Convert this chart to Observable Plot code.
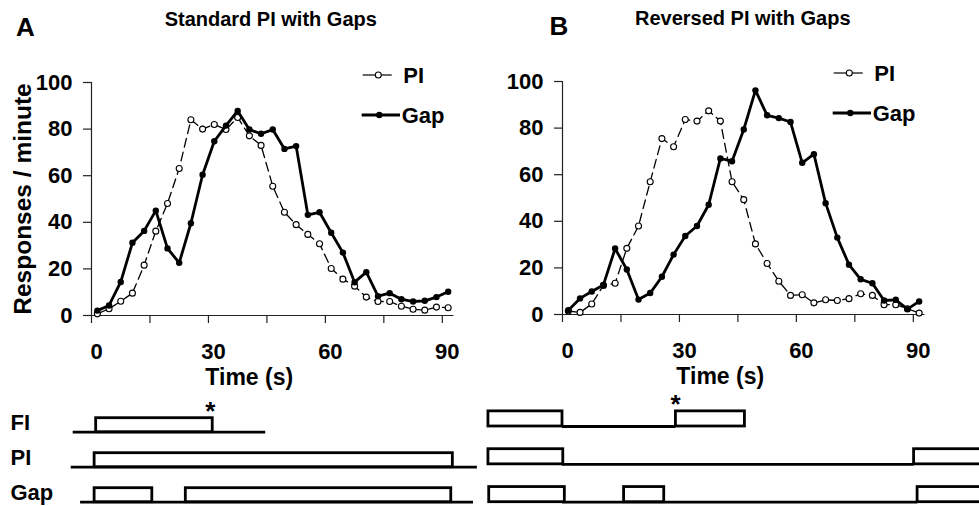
<!DOCTYPE html>
<html>
<head>
<meta charset="utf-8">
<script src="https://cdn.jsdelivr.net/npm/d3@7"></script>
<script src="https://cdn.jsdelivr.net/npm/@observablehq/plot@0.6"></script>
<style>
html, body { margin: 0; padding: 0; background: #fff; }
#wrap { position: relative; width: 979px; height: 506px; overflow: hidden; background: #fff;
  font-family: "Liberation Sans", Arial, Helvetica, sans-serif; }
#wrap > div { position: absolute; }
#wrap svg { max-width: none; }
</style>
</head>
<body>
<div id="wrap"></div>
<script>
// ---------- data ----------
const timeBins = [1.5, 4.5, 7.5, 10.5, 13.5, 16.5, 19.5, 22.5, 25.5, 28.5, 31.5, 34.5, 37.5, 40.5, 43.5,
  46.5, 49.5, 52.5, 55.5, 58.5, 61.5, 64.5, 67.5, 70.5, 73.5, 76.5, 79.5, 82.5, 85.5, 88.5, 91.5];

const standardPI  = [0.7, 2.9, 6.1, 9.6, 21.6, 36.2, 48.1, 63.1, 84, 80, 82, 79.8, 85, 77.1, 73,
  55.5, 44.3, 39, 34.8, 30.8, 20.2, 15.6, 12.6, 7.9, 6, 6, 4, 2.7, 2.3, 3.6, 3.3];
const standardGap = [2.1, 4.3, 14.4, 31.2, 36.3, 45, 28.8, 22.6, 39.6, 60.4, 74.8, 81.5, 87.8, 79.8, 78,
  79.8, 71.5, 72.7, 43.2, 44.3, 35.5, 27, 14.3, 18.6, 8.3, 9.6, 7, 6, 6.3, 7.9, 10.2];

const reversedPI  = [1.5, 0.9, 4.5, 12.5, 13.4, 28.4, 38, 57, 75.5, 72, 83.7, 83, 87.4, 83, 57,
  49.3, 30.3, 21.9, 14.3, 8.2, 8.5, 5, 6.3, 6, 6.8, 8.9, 8.2, 4.2, 4.2, 2.5, 0.6];
const reversedGap = [1.8, 6.9, 9.9, 12.7, 28.3, 19.3, 6.4, 9.2, 16.2, 25.7, 33.7, 38, 47.1, 67, 65.8,
  79.4, 96.2, 85.5, 84.3, 82.6, 65.1, 68.8, 47.8, 33, 21.4, 15.1, 13.4, 6, 6.3, 2.3, 5.6];

const xTicks  = [0, 15, 30, 45, 60, 75, 90];
const xLabels = [0, 30, 60, 90];
const yTicks  = [0, 20, 40, 60, 80, 100];
const seriesNames = ["PI", "Gap"];

// schematic (time in s)
const schemRows = ["FI", "PI", "Gap"];
const standardBaselines = [
  {row: 0, x1: -4.7, x2: 44.7}, {row: 1, x1: -5.2, x2: 99}, {row: 2, x1: -2.8, x2: 98}];
const standardBoxes = [
  {row: 0, x1: 1.2, x2: 31.1}, {row: 1, x1: 0.8, x2: 92.7},
  {row: 2, x1: 0.8, x2: 15.6}, {row: 2, x1: 24.2, x2: 92.3}];
const standardStars = [{row: 0, x: 30.5}];
const reversedBaselines = [
  {row: 0, x1: 0, x2: 29.1}, {row: 1, x1: 0, x2: 90.2}, {row: 2, x1: 0, x2: 91.1}];
const reversedBoxes = [
  {row: 0, x1: -19, x2: 0}, {row: 0, x1: 29.1, x2: 46.8},
  {row: 1, x1: -19, x2: 0.2}, {row: 1, x1: 90.2, x2: 112},
  {row: 2, x1: -18.8, x2: 0.6}, {row: 2, x1: 15.8, x2: 26.1}, {row: 2, x1: 91.1, x2: 112}];
const reversedStars = [{row: 0, x: 29}];

// ---------- helpers ----------
const FONT = '"Liberation Sans", Arial, Helvetica, sans-serif';
const baseStyle = {fontFamily: FONT, fontWeight: "bold", fontSize: "22px", background: "transparent", color: "black"};
const wrap = document.getElementById("wrap");

function place(node, left, top) {
  const d = document.createElement("div");
  d.style.left = left + "px";
  d.style.top = top + "px";
  d.appendChild(node);
  wrap.appendChild(d);
}

function mainPlot({pi, gap, letter, letterDx, title, titleDx, yTitle}) {
  const piData = timeBins.map((t, i) => ({t, v: pi[i]}));
  const gapData = timeBins.map((t, i) => ({t, v: gap[i]}));
  const W = 490;
  return Plot.plot({
    width: W, height: 390,
    marginLeft: 91, marginRight: W - 453.5, marginTop: 82, marginBottom: 75,
    x: {domain: [0, 93]},
    y: {domain: [0, 100]},
    style: baseStyle,
    marks: [
      Plot.ruleY([0], {stroke: "#222", strokeWidth: 1.2}),
      Plot.ruleX([0], {stroke: "#222", strokeWidth: 1.2}),
      Plot.axisX({ticks: xTicks, tickSize: 8, tickFormat: () => "", label: null, stroke: "#222", strokeWidth: 1.2}),
      Plot.axisY({ticks: yTicks, tickSize: 8, tickPadding: 11, label: null, stroke: "#222", strokeWidth: 1.2,
        fontSize: 22, fontWeight: "bold"}),
      Plot.text(xLabels, {x: d => d, text: d => String(d), frameAnchor: "bottom", lineAnchor: "middle",
        dy: 36, dx: 5, fontSize: 22, fontWeight: "bold"}),
      Plot.text(["Time (s)"], {frameAnchor: "bottom", lineAnchor: "middle", dy: 62, dx: -23.5,
        fontSize: 23, fontWeight: "bold"}),
      yTitle ? Plot.text([yTitle], {frameAnchor: "left", textAnchor: "middle", lineAnchor: "middle",
        rotate: -90, dx: -68, dy: 0, fontSize: 24.5, fontWeight: "bold"}) : null,
      Plot.text([letter], {frameAnchor: "top-left", textAnchor: "middle", lineAnchor: "middle",
        dx: letterDx, dy: -54.5, fontSize: 26, fontWeight: "bold"}),
      Plot.text([title], {frameAnchor: "top", textAnchor: "middle", lineAnchor: "middle",
        dx: titleDx, dy: -62.5, fontSize: 20, fontWeight: "bold"}),
      Plot.line(piData, {x: "t", y: "v", stroke: "black", strokeWidth: 1.3, strokeDasharray: "9,5"}),
      Plot.dot(piData, {x: "t", y: "v", r: 3, fill: "white", stroke: "black", strokeWidth: 1.1}),
      Plot.line(gapData, {x: "t", y: "v", stroke: "black", strokeWidth: 2.8}),
      Plot.dot(gapData, {x: "t", y: "v", r: 3.2, fill: "black"})
    ]
  });
}

function schemPlot({baselines, boxes, stars, yRange, W, labels}) {
  return Plot.plot({
    width: W, height: 116,
    marginLeft: 91, marginRight: W - 453.5, marginTop: 0, marginBottom: 0,
    x: {domain: [0, 93], axis: null},
    y: {domain: [0, 2], range: yRange, axis: null},
    style: baseStyle,
    marks: [
      Plot.ruleY(baselines, {y: "row", x1: "x1", x2: "x2", stroke: "black", strokeWidth: 2.8}),
      Plot.rect(boxes, {x1: "x1", x2: "x2", y1: d => d.row - 0.4, y2: "row", fill: "white", stroke: "black", strokeWidth: 2.8}),
      Plot.text(stars, {x: "x", y: d => d.row - 0.4, text: () => "*", lineAnchor: "bottom", dy: 2, fontSize: 26, fontWeight: "bold"}),
      labels ? Plot.text(schemRows, {y: (d, i) => i, text: d => d, frameAnchor: "left", lineAnchor: "middle",
        dx: -81, dy: -9, textAnchor: "start", fontSize: 22, fontWeight: "bold"}) : null
    ]
  });
}

function legend() {
  const svg = d3.create("svg").attr("width", 130).attr("height", 80)
    .style("font-family", FONT).style("font-weight", "bold").style("font-size", "22px");
  // PI row
  svg.append("line").attr("x1", 12.7).attr("x2", 41.7).attr("y1", 20).attr("y2", 20)
    .attr("stroke", "black").attr("stroke-width", 1.2);
  svg.append("circle").attr("cx", 28.3).attr("cy", 20).attr("r", 3)
    .attr("fill", "white").attr("stroke", "black").attr("stroke-width", 1.1);
  svg.append("text").attr("x", 53.3).attr("y", 20).attr("dy", "0.36em").text(seriesNames[0]);
  // Gap row
  svg.append("line").attr("x1", 11.7).attr("x2", 50).attr("y1", 60).attr("y2", 60)
    .attr("stroke", "black").attr("stroke-width", 2.8);
  svg.append("circle").attr("cx", 29.3).attr("cy", 60).attr("r", 3.2).attr("fill", "black");
  svg.append("text").attr("x", 51.7).attr("y", 60).attr("dy", "0.36em").text(seriesNames[1]);
  return svg.node();
}

// ---------- build ----------
place(mainPlot({pi: standardPI, gap: standardGap, letter: "A", letterDx: -66,
  title: "Standard PI with Gaps", titleDx: -2, yTitle: "Responses / minute"}), 0, 0);
place(mainPlot({pi: reversedPI, gap: reversedGap, letter: "B", letterDx: -3.5,
  title: "Reversed PI with Gaps", titleDx: -1, yTitle: null}), 470.5, -1);

place(schemPlot({baselines: standardBaselines, boxes: standardBoxes, stars: standardStars,
  yRange: [41.7, 111.7], W: 490, labels: true}), 0, 390);
place(schemPlot({baselines: reversedBaselines, boxes: reversedBoxes, stars: reversedStars,
  yRange: [36, 111.7], W: 508.5, labels: false}), 470.5, 390);

place(legend(), 350, 55);
place(legend(), 821, 53);
</script>
</body>
</html>
